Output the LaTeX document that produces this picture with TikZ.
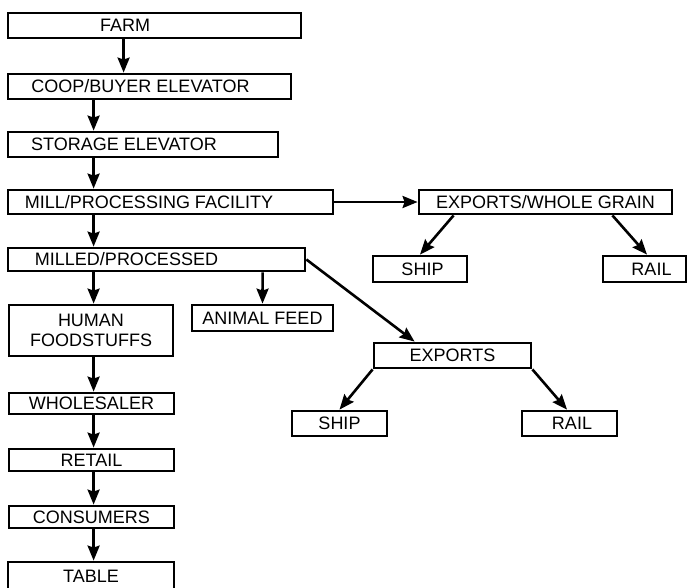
\documentclass[tikz,border=0pt]{standalone}
\usepackage{fontspec}
\setmainfont{Liberation Sans}
\usetikzlibrary{arrows.meta}
\begin{document}
\begin{tikzpicture}[x=1pt,y=-1pt,
  box/.style={draw=black, line width=2.8pt, inner sep=0pt, fill=white},
  lbl/.style={font=\fontsize{18}{20}\selectfont, inner sep=0pt},
  arr/.style={line width=2.6pt, -{Stealth[length=15pt,width=12pt,inset=2pt]}},
  bx/.style args={#1/#2}{box, minimum width=#1pt, minimum height=#2pt}]
\clip (0,0) rectangle (688,587);
\fill[white] (0,0) rectangle (688,587);
% left column
\node[bx=293/25, label={[lbl,xshift=-29.5pt]center:FARM}] (farm) at (154.5,25.5) {};
\node[bx=283/25, label={[lbl,xshift=-9pt]center:COOP/BUYER ELEVATOR}] (coop) at (149.5,86.5) {};
\node[bx=270/25, label={[lbl,xshift=-19pt]center:STORAGE ELEVATOR}] (storage) at (143,144.5) {};
\node[bx=325/24, label={[lbl,xshift=-21.5pt]center:MILL/PROCESSING FACILITY}] (mill) at (170.5,202) {};
\node[bx=297/23, label={[lbl,xshift=-30pt]center:MILLED/PROCESSED}] (milled) at (156.5,259.5) {};
\node[bx=164/51, lbl, align=center] (human) at (91,330.5) {HUMAN\\FOODSTUFFS};
\node[bx=141/26, lbl] (animal) at (262.5,318) {ANIMAL FEED};
\node[bx=165/21, lbl] (wholesaler) at (91.5,403.5) {WHOLESALER};
\node[bx=165/22, lbl] (retail) at (91.5,460) {RETAIL};
\node[bx=165/22, lbl] (consumers) at (91.5,517) {CONSUMERS};
\node[bx=166/48, label={[lbl,yshift=10pt]center:TABLE}] (table) at (91,586) {};
% right side
\node[bx=253/24, lbl] (ewg) at (545.5,202) {EXPORTS/WHOLE GRAIN};
\node[bx=94/26, label={[lbl,xshift=2.5pt]center:SHIP}] (shipa) at (420,269) {};
\node[bx=83/26, label={[lbl,xshift=7pt]center:RAIL}] (raila) at (644.5,269) {};
\node[bx=157/25, lbl] (exports) at (452.5,355.5) {EXPORTS};
\node[bx=95/25, lbl] (shipb) at (339.5,423.5) {SHIP};
\node[bx=95/25, label={[lbl,xshift=2.5pt]center:RAIL}] (railb) at (569.5,423.5) {};
% arrows
\draw[arr] ([xshift=117pt]farm.south west) -- ([xshift=117pt]coop.north west);
\draw[arr] ([xshift=87pt]coop.south west) -- ([xshift=87pt]storage.north west);
\draw[arr] ([xshift=87pt]storage.south west) -- ([xshift=87pt]mill.north west);
\draw[arr] ([xshift=87pt]mill.south west) -- ([xshift=87pt]milled.north west);
\draw[arr] ([xshift=87pt]milled.south west) -- ([xshift=86pt]human.north west);
\draw[arr] ([xshift=256pt]milled.south west) -- (animal.north);
\draw[arr] ([xshift=86pt]human.south west) -- ([xshift=86pt]wholesaler.north west);
\draw[arr] ([xshift=86pt]wholesaler.south west) -- ([xshift=86pt]retail.north west);
\draw[arr] ([xshift=86pt]retail.south west) -- ([xshift=86pt]consumers.north west);
\draw[arr] ([xshift=86pt]consumers.south west) -- ([xshift=87pt]table.north west);
\draw[arr] (mill.east) -- (ewg.west);
\draw[arr] ([xshift=36pt]ewg.south west) -- (shipa.north);
\draw[arr] ([xshift=-61pt]ewg.south east) -- ([xshift=2.5pt]raila.north);
\draw[arr] (milled.east) -- ([xshift=42pt]exports.north west);
\draw[arr] (exports.south west) -- (shipb.north);
\draw[arr] (exports.south east) -- ([xshift=-2.5pt]railb.north);
\end{tikzpicture}
\end{document}
